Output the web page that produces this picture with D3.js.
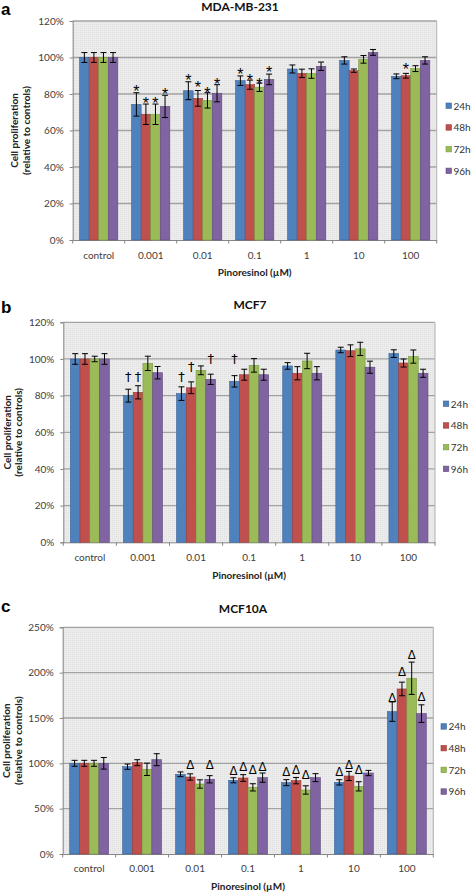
<!DOCTYPE html>
<html><head><meta charset="utf-8">
<script src="https://cdn.jsdelivr.net/npm/d3@7"></script>
<style>body{margin:0;background:#fff}svg{display:block}</style>
</head><body>
<svg id="chart" width="472" height="893"></svg>
<script>
// ---------- DATA ----------
const categories = ["control", "0.001", "0.01", "0.1", "1", "10", "100"];
const seriesNames = ["24h", "48h", "72h", "96h"];
const ticksA = [0, 20, 40, 60, 80, 100, 120];
const ticksB = [0, 20, 40, 60, 80, 100, 120];
const ticksC = [0, 50, 100, 150, 200, 250];

// Panel a: MDA-MB-231
const a24 = [100, 74.3, 81.8, 87.3, 93.7, 98.4, 89.7];
const a48 = [100, 68.9, 77.6, 85.1, 91.3, 92.8, 90.0];
const a72 = [100, 68.9, 76.5, 83.7, 91.2, 99.0, 93.9];
const a96 = [100, 73.2, 80.4, 88.0, 95.2, 102.8, 98.4];
const a24e = [2.7, 6.4, 4.9, 2.6, 2.2, 2.0, 1.3];
const a48e = [2.7, 5.6, 4.3, 2.5, 2.3, 0.9, 1.3];
const a72e = [2.7, 5.6, 4.2, 2.3, 2.6, 2.1, 1.6];
const a96e = [2.7, 6.1, 4.7, 2.9, 2.3, 1.6, 2.0];
const a24k = [null, 83.7, 89.9, 93.0, null, null, null];
const a48k = [null, 77.1, 85.8, 89.9, null, null, 95.7];
const a72k = [null, 77.1, 82.6, 87.7, null, null, null];
const a96k = [null, 82.2, 87.7, 94.1, null, null, null];

// Panel b: MCF7
const b24 = [100, 80.0, 81.1, 87.8, 96.2, 104.9, 102.9];
const b48 = [100, 81.8, 84.3, 91.4, 92.2, 104.5, 97.8];
const b72 = [100, 97.6, 93.8, 96.5, 98.9, 105.5, 101.3];
const b96 = [100, 92.5, 88.9, 91.4, 92.2, 95.5, 92.2];
const b24e = [2.9, 3.5, 3.7, 3.1, 1.8, 1.5, 2.1];
const b48e = [2.9, 3.6, 3.2, 3.0, 3.6, 3.2, 2.2];
const b72e = [1.5, 3.9, 2.4, 3.7, 4.2, 3.6, 3.6];
const b96e = [2.9, 3.4, 2.8, 3.0, 3.6, 3.3, 2.2];
const b24k = [null, 90, 90, 100, null, null, null];
const b48k = [null, 90, 95.5, null, null, null, null];
const b72k = [null, null, null, null, null, null, null];
const b96k = [null, null, 100, null, null, null, null];

// Panel c: MCF10A
const c24 = [100, 96.3, 87.9, 81.3, 78.7, 79.0, 157.0];
const c48 = [100, 100.7, 84.9, 83.8, 80.9, 86.0, 182.0];
const c72 = [100, 93.4, 77.2, 73.5, 70.6, 74.6, 193.8];
const c96 = [100, 104.0, 82.4, 84.2, 84.2, 89.3, 154.8];
const c24e = [3.3, 2.9, 2.6, 2.8, 3.3, 2.9, 10.7];
const c48e = [3.3, 3.3, 3.5, 3.7, 3.5, 5.0, 7.5];
const c72e = [3.3, 6.8, 4.6, 4.0, 4.6, 5.1, 17.8];
const c96e = [6.4, 6.6, 4.0, 5.1, 4.4, 2.9, 9.7];
const c24k = [null, null, null, 92, 91, 91, 172.8];
const c48k = [null, null, 99, 96, 93, 99, 201];
const c72k = [null, null, null, 93, 87, 93, 219.5];
const c96k = [null, null, 99, 96, null, null, 173.5];

// ---------- STYLE / LAYOUT ----------
const colors = ["#4f81bd", "#c0504d", "#9bbb59", "#8064a2"];
const strokes = ["#3a6496", "#963c3a", "#789a3f", "#5f4a7c"];
const FONT = "Lato, 'Open Sans', sans-serif";

const panels = [
  { letter: "a", title: "MDA-MB-231", ticks: ticksA, max: 120,
    values: [a24, a48, a72, a96], errors: [a24e, a48e, a72e, a96e], marks: [a24k, a48k, a72k, a96k],
    symbol: "*", left: 72.7, right: 436.7, top: 21, bottom: 240,
    titleX: 240, titleY: 7, letterY: 14.5, yt1: 14, yt2: 26.5, legX: 446, legY: 106,
    xlabY: 255, xtitleY: 272.7 },
  { letter: "b", title: "MCF7", ticks: ticksB, max: 120,
    values: [b24, b48, b72, b96], errors: [b24e, b48e, b72e, b96e], marks: [b24k, b48k, b72k, b96k],
    symbol: "\u2020", left: 63.3, right: 435, top: 322.3, bottom: 542.3,
    titleX: 250, titleY: 305, letterY: 313, yt1: 7, yt2: 18.5, legX: 443.3, legY: 404,
    xlabY: 557.3, xtitleY: 575 },
  { letter: "c", title: "MCF10A", ticks: ticksC, max: 250,
    values: [c24, c48, c72, c96], errors: [c24e, c48e, c72e, c96e], marks: [c24k, c48k, c72k, c96k],
    symbol: "\u0394", left: 62.7, right: 433.3, top: 627.3, bottom: 854,
    titleX: 243, titleY: 609, letterY: 611.5, yt1: 6, yt2: 18, legX: 441, legY: 726.7,
    xlabY: 868, xtitleY: 886 }
];

const svg = d3.select("#chart");

// subtle dotted background pattern
const defs = svg.append("defs");
const pat = defs.append("pattern").attr("id", "dots").attr("width", 2).attr("height", 2)
  .attr("patternUnits", "userSpaceOnUse");
pat.append("rect").attr("width", 2).attr("height", 2).attr("fill", "#ececec");
pat.append("rect").attr("x", 0).attr("y", 0).attr("width", 1).attr("height", 1).attr("fill", "#e0e0e0");

panels.forEach(p => {
  const g = svg.append("g");
  const x = d3.scaleBand().domain(categories).range([p.left, p.right]).paddingInner(0).paddingOuter(0);
  const xs = d3.scaleBand().domain(seriesNames).range([0, x.bandwidth()]).paddingInner(0).paddingOuter(0.72);
  const y = d3.scaleLinear().domain([0, p.max]).range([p.bottom, p.top]);

  // plot background
  g.append("rect").attr("x", p.left).attr("y", p.top)
    .attr("width", p.right - p.left).attr("height", p.bottom - p.top)
    .attr("fill", "url(#dots)");

  // gridlines
  g.append("g").selectAll("line").data(p.ticks.filter(t => t > 0)).join("line")
    .attr("x1", p.left).attr("x2", p.right)
    .attr("y1", d => y(d)).attr("y2", d => y(d))
    .attr("stroke", "#a3a3a3").attr("stroke-width", 1.3);

  // right border
  g.append("line").attr("x1", p.right).attr("x2", p.right).attr("y1", p.top).attr("y2", p.bottom)
    .attr("stroke", "#b0b0b0").attr("stroke-width", 1);

  // y axis
  const yAxis = g.append("g").attr("transform", `translate(${p.left},0)`)
    .call(d3.axisLeft(y).tickValues(p.ticks).tickFormat(d => d + "%").tickSize(3).tickPadding(6));
  yAxis.select(".domain").attr("stroke", "#868686");
  yAxis.selectAll(".tick line").attr("stroke", "#868686");
  yAxis.selectAll("text").attr("font-family", FONT).attr("font-size", 10).attr("fill", "#404040");

  // x axis
  const xAxis = g.append("g").attr("transform", `translate(0,${p.bottom})`)
    .call(d3.axisBottom(x).tickSize(0).tickPadding(0));
  xAxis.select(".domain").attr("stroke", "#868686");
  xAxis.selectAll("text").attr("font-family", FONT).attr("font-size", 10).attr("fill", "#404040")
    .attr("y", p.xlabY - p.bottom).attr("dy", "0.35em");
  // boundary ticks
  const bounds = categories.map(c => x(c)).concat([p.right]);
  g.append("g").selectAll("line").data(bounds).join("line")
    .attr("x1", d => d).attr("x2", d => d).attr("y1", p.bottom).attr("y2", p.bottom + 3.5)
    .attr("stroke", "#868686");

  // bars
  seriesNames.forEach((s, si) => {
    const vals = p.values[si], errs = p.errors[si], mk = p.marks[si];
    const bx = c => x(c) + xs(s);
    const bw = xs.bandwidth();
    const sg = g.append("g");
    sg.selectAll("rect").data(categories).join("rect")
      .attr("x", c => bx(c)).attr("width", bw)
      .attr("y", (c, i) => y(vals[i])).attr("height", (c, i) => y(0) - y(vals[i]))
      .attr("fill", colors[si]).attr("stroke", strokes[si]).attr("stroke-width", 0.6);
    // error bars
    const eg = sg.append("g").attr("stroke", "#000").attr("stroke-width", 1);
    categories.forEach((c, i) => {
      const cx = bx(c) + bw / 2;
      const y1 = y(vals[i] + errs[i]), y2 = y(vals[i] - errs[i]);
      eg.append("line").attr("x1", cx).attr("x2", cx).attr("y1", y1).attr("y2", y2);
      eg.append("line").attr("x1", cx - 3).attr("x2", cx + 3).attr("y1", y1).attr("y2", y1);
      eg.append("line").attr("x1", cx - 3).attr("x2", cx + 3).attr("y1", y2).attr("y2", y2);
    });
    // significance markers
    const md = categories.map((c, i) => ({ c, v: mk[i] })).filter(d => d.v != null);
    let fs, off, ff;
    if (p.symbol === "*") { fs = 16; off = 0.6; ff = "'Liberation Sans', sans-serif"; }
    else if (p.symbol === "\u2020") { fs = 13; off = 0.3; ff = "'DejaVu Sans', sans-serif"; }
    else { fs = 12; off = 0.36; ff = "'Liberation Sans', sans-serif"; }
    sg.append("g").selectAll("text").data(md).join("text")
      .attr("x", d => bx(d.c) + bw / 2).attr("y", d => y(d.v) + off * fs)
      .attr("text-anchor", "middle").attr("font-family", ff).attr("font-size", fs)
      .attr("fill", "#000").style("fill", "#000").text(p.symbol);
  });

  // legend
  const lg = g.append("g");
  seriesNames.forEach((s, si) => {
    const ly = p.legY + si * 21.7;
    lg.append("rect").attr("x", p.legX).attr("y", ly - 3).attr("width", 5.5).attr("height", 5.5)
      .attr("fill", colors[si]).attr("stroke", strokes[si]).attr("stroke-width", 0.6);
    lg.append("text").attr("x", p.legX + 7.5).attr("y", ly).attr("dy", "0.35em")
      .attr("font-family", FONT).attr("font-size", 10).attr("fill", "#333").text(s);
  });

  // titles
  g.append("text").attr("x", p.titleX).attr("y", p.titleY).attr("dy", "0.35em")
    .attr("text-anchor", "middle").attr("font-family", FONT).attr("font-weight", "bold")
    .attr("font-size", 12).attr("fill", "#111").text(p.title);
  g.append("text").attr("x", 1).attr("y", p.letterY)
    .attr("font-family", "'Liberation Sans', Arial, sans-serif").attr("font-weight", "bold")
    .attr("font-size", 17).attr("fill", "#000").text(p.letter);
  g.append("text").attr("x", (p.left + p.right) / 2).attr("y", p.xtitleY).attr("dy", "0.35em")
    .attr("text-anchor", "middle").attr("font-family", FONT).attr("font-weight", "bold")
    .attr("font-size", 10).attr("fill", "#222").text("Pinoresinol (\u00b5M)");
  const cy = (p.top + p.bottom) / 2;
  g.append("text").attr("transform", `translate(${p.yt1},${cy}) rotate(-90)`).attr("dy", "0.35em")
    .attr("text-anchor", "middle").attr("font-family", FONT).attr("font-weight", "bold")
    .attr("font-size", 10).attr("fill", "#222").text("Cell proliferation");
  g.append("text").attr("transform", `translate(${p.yt2},${cy}) rotate(-90)`).attr("dy", "0.35em")
    .attr("text-anchor", "middle").attr("font-family", FONT).attr("font-weight", "bold")
    .attr("font-size", 10).attr("fill", "#222").text("(relative to controls)");
});
</script>
</body></html>
